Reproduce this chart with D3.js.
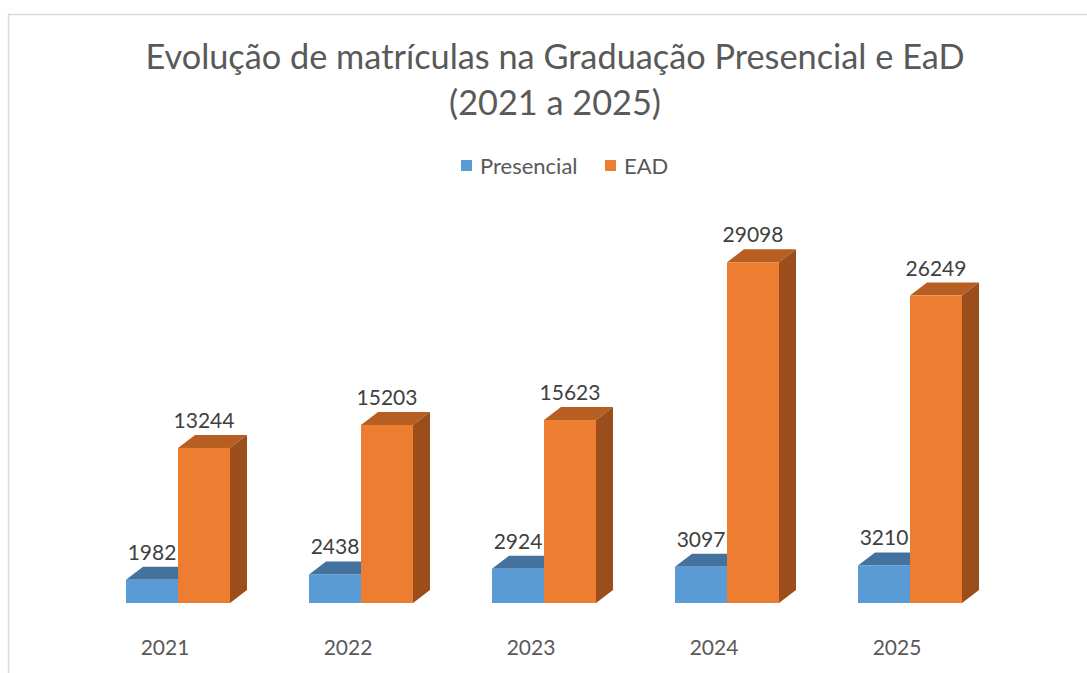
<!DOCTYPE html>
<html>
<head>
<meta charset="utf-8">
<script src="https://cdn.jsdelivr.net/npm/d3@7"></script>
<style>
  body { margin: 0; background: #fff; }
  svg { display: block; font-family: Lato, "Open Sans", sans-serif; }
</style>
</head>
<body>
<div id="container"></div>
<script>
// chart data
const years = ["2021", "2022", "2023", "2024", "2025"];
const series = ["Presencial", "EAD"];
const presencial = [1982, 2438, 2924, 3097, 3210];
const ead = [13244, 15203, 15623, 29098, 26249];
const titleLines = ["Evolução de matrículas na Graduação Presencial e EaD", "(2021 a 2025)"];

const width = 1087, height = 673;
const depthX = 17, depthY = 13; // fake 3d offset

const colors = {
    Presencial: { front: "#5B9BD5", top: "#44729E", side: "#3C6790" },
    EAD: { front: "#ED7D31", top: "#B75F22", side: "#9B4E1C" }
};

const svg = d3.select("#container")
    .append("svg")
    .attr("width", width)
    .attr("height", height);

// chart frame
svg.append("path")
    .attr("d", `M8.5,${height} V14.5 H${width}`)
    .attr("fill", "none")
    .attr("stroke", "#d9d9d9")
    .attr("stroke-width", 1.5);

// title
svg.append("text")
    .attr("text-anchor", "middle")
    .attr("fill", "#595959")
    .attr("font-size", 34.3)
    .selectAll("tspan")
    .data(titleLines)
    .join("tspan")
    .attr("x", 555)
    .attr("y", (d, i) => 69 + i * 46)
    .text(d => d);

// legend
const legend = svg.append("g");
const legendX = [461, 605];
series.forEach((s, i) => {
    legend.append("rect")
        .attr("x", legendX[i])
        .attr("y", 160)
        .attr("width", 11)
        .attr("height", 11)
        .attr("fill", colors[s].front);
    legend.append("text")
        .attr("x", legendX[i] + 19)
        .attr("y", 174)
        .attr("font-size", 22)
        .attr("fill", "#595959")
        .text(s);
});

// scales
const x = d3.scalePoint().domain(years).range([178, 910]);
const xInner = d3.scaleBand().domain(series).range([-52, 52]);
const y = d3.scaleLinear().domain([0, 30000]).range([603, 603 - 30000 * 0.01171]);

const data = years.map((yr, i) => ({
    year: yr,
    values: [
        { key: "Presencial", value: presencial[i] },
        { key: "EAD", value: ead[i] }
    ]
}));

const bars = svg.append("g");

data.forEach(d => {
    d.values.forEach(v => {
        const x0 = x(d.year) + xInner(v.key);
        const x1 = x0 + xInner.bandwidth();
        const yTop = y(v.value);
        const yBase = y(0);
        const g = bars.append("g");
        // top face
        g.append("path")
            .attr("d", `M${x0},${yTop} L${x0 + depthX},${yTop - depthY} L${x1 + depthX},${yTop - depthY} L${x1},${yTop} Z`)
            .attr("fill", colors[v.key].top);
        // side face
        g.append("path")
            .attr("d", `M${x1},${yTop} L${x1 + depthX},${yTop - depthY} L${x1 + depthX},${yBase - depthY} L${x1},${yBase} Z`)
            .attr("fill", colors[v.key].side);
        // front face
        g.append("rect")
            .attr("x", x0)
            .attr("y", yTop)
            .attr("width", x1 - x0)
            .attr("height", yBase - yTop)
            .attr("fill", colors[v.key].front);
        // value label
        g.append("text")
            .attr("x", (x0 + x1) / 2)
            .attr("y", yTop - depthY - 7)
            .attr("text-anchor", "middle")
            .attr("font-size", 21)
            .attr("fill", "#404040")
            .text(v.value);
    });
});

// category labels
svg.append("g")
    .selectAll("text")
    .data(years)
    .join("text")
    .attr("x", d => x(d) - 13)
    .attr("y", 655)
    .attr("text-anchor", "middle")
    .attr("font-size", 21)
    .attr("fill", "#595959")
    .text(d => d);
</script>
</body>
</html>
